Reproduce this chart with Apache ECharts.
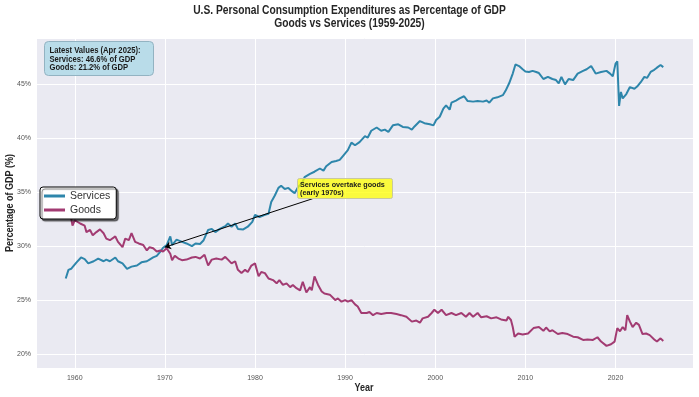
<!DOCTYPE html>
<html>
<head>
<meta charset="utf-8">
<script src="https://cdn.jsdelivr.net/npm/echarts@6/dist/echarts.min.js"></script>
<style>
  html, body { margin: 0; padding: 0; background: #fff; }
  #chart { width: 699px; height: 397px; }
</style>
</head>
<body>
<div id="chart"></div>
<script>
// values (share of GDP, %)
const servicesYears = [1959.0, 1959.3, 1959.6, 1959.8, 1960.2, 1960.7, 1961.1, 1961.5, 1962.1, 1962.6, 1963.2, 1963.5, 1963.9, 1964.5, 1964.8, 1965.3, 1965.8, 1966.3, 1966.9, 1967.4, 1968.0, 1968.3, 1968.7, 1969.1, 1969.5, 1969.8, 1970.2, 1970.6, 1970.8, 1971.3, 1971.9, 1972.4, 1973.0, 1973.4, 1973.9, 1974.3, 1974.8, 1975.2, 1975.6, 1976.1, 1976.7, 1977.0, 1977.4, 1977.8, 1978.1, 1978.7, 1979.2, 1979.7, 1980.0, 1980.5, 1981.1, 1981.5, 1981.8, 1982.2, 1982.6, 1982.9, 1983.3, 1983.7, 1984.1, 1984.4, 1984.8, 1985.2, 1985.5, 1986.1, 1986.6, 1987.2, 1987.6, 1987.9, 1988.5, 1989.0, 1989.4, 1989.8, 1990.3, 1990.7, 1991.1, 1991.6, 1992.2, 1992.5, 1992.9, 1993.5, 1994.0, 1994.4, 1994.8, 1995.3, 1995.9, 1996.4, 1997.0, 1997.4, 1997.7, 1998.3, 1998.8, 1999.4, 1999.8, 2000.1, 2000.5, 2000.9, 2001.2, 2001.6, 2001.8, 2002.3, 2002.7, 2003.2, 2003.6, 2004.2, 2004.7, 2005.3, 2005.7, 2006.0, 2006.4, 2006.9, 2007.5, 2007.8, 2008.2, 2008.6, 2008.9, 2009.3, 2009.7, 2010.0, 2010.4, 2010.8, 2011.2, 2011.5, 2012.0, 2012.5, 2013.0, 2013.4, 2013.7, 2014.0, 2014.4, 2014.8, 2015.3, 2015.8, 2016.4, 2016.8, 2017.3, 2017.8, 2018.4, 2019.0, 2019.4, 2019.7, 2020.0, 2020.2, 2020.4, 2020.6, 2020.8, 2021.2, 2021.6, 2022.1, 2022.4, 2022.8, 2023.2, 2023.5, 2023.9, 2024.3, 2024.6, 2025.0, 2025.3]
const servicesValues = [27.0, 27.8, 27.9, 28.1, 28.5, 28.95, 28.8, 28.4, 28.6, 28.85, 28.6, 28.75, 28.6, 28.95, 28.6, 28.4, 27.9, 28.1, 28.2, 28.5, 28.6, 28.75, 28.95, 29.1, 29.5, 29.85, 30.1, 30.9, 30.1, 30.6, 30.4, 30.25, 30.0, 30.25, 30.2, 30.55, 31.5, 31.6, 31.3, 31.6, 31.85, 32.1, 31.8, 32.1, 31.6, 31.55, 31.8, 32.25, 32.9, 32.7, 32.9, 33.0, 34.1, 34.7, 35.4, 35.6, 35.3, 35.4, 35.1, 34.9, 35.5, 35.8, 36.4, 36.7, 36.9, 37.2, 37.0, 37.4, 37.8, 37.9, 38.0, 38.4, 38.9, 39.6, 39.35, 39.65, 40.2, 40.05, 40.7, 41.0, 40.7, 40.8, 40.6, 41.2, 41.3, 41.05, 41.0, 40.8, 41.1, 41.6, 41.4, 41.3, 41.2, 41.7, 42.0, 42.75, 43.05, 42.65, 43.3, 43.5, 43.7, 43.9, 43.45, 43.4, 43.45, 43.4, 43.5, 43.3, 43.7, 43.8, 44.0, 44.4, 45.1, 46.0, 46.85, 46.7, 46.4, 46.2, 46.15, 46.25, 46.15, 46.05, 45.5, 45.7, 45.5, 45.4, 45.1, 45.7, 45.0, 45.5, 45.4, 46.0, 46.25, 46.4, 46.7, 46.0, 46.15, 46.25, 46.0, 45.75, 46.9, 47.15, 43.0, 44.3, 43.7, 44.1, 44.75, 44.6, 44.8, 45.2, 45.7, 45.6, 46.15, 46.35, 46.55, 46.8, 46.6]

const goodsYears = [1959.0, 1959.4, 1959.6, 1959.75, 1960.0, 1960.2, 1960.6, 1961.1, 1961.3, 1961.7, 1962.0, 1962.4, 1962.8, 1963.2, 1963.5, 1963.9, 1964.5, 1964.8, 1965.3, 1965.6, 1966.0, 1966.3, 1966.7, 1967.1, 1967.6, 1968.0, 1968.3, 1968.7, 1969.1, 1969.5, 1969.8, 1970.2, 1970.6, 1970.8, 1971.1, 1971.5, 1971.9, 1972.4, 1973.0, 1973.4, 1973.9, 1974.4, 1974.8, 1975.2, 1975.7, 1976.3, 1976.7, 1977.0, 1977.4, 1977.8, 1978.1, 1978.5, 1978.9, 1979.2, 1979.6, 1980.0, 1980.4, 1980.7, 1981.1, 1981.5, 1982.0, 1982.4, 1982.7, 1983.1, 1983.5, 1983.9, 1984.2, 1984.6, 1985.0, 1985.3, 1985.7, 1986.1, 1986.3, 1986.6, 1987.0, 1987.4, 1987.7, 1988.3, 1988.9, 1989.2, 1989.6, 1990.0, 1990.3, 1990.7, 1991.1, 1991.4, 1991.8, 1992.4, 1992.7, 1993.1, 1993.5, 1994.0, 1994.6, 1995.1, 1995.7, 1996.2, 1996.8, 1997.4, 1997.9, 1998.3, 1998.6, 1999.2, 1999.6, 1999.9, 2000.3, 2000.7, 2001.2, 2001.8, 2002.3, 2002.9, 2003.4, 2003.8, 2004.2, 2004.7, 2005.1, 2005.7, 2006.2, 2006.8, 2007.3, 2007.9, 2008.1, 2008.4, 2008.6, 2008.8, 2009.2, 2009.7, 2010.3, 2010.9, 2011.5, 2012.0, 2012.3, 2012.7, 2013.0, 2013.6, 2014.1, 2014.7, 2015.3, 2015.8, 2016.4, 2016.9, 2017.5, 2018.0, 2018.4, 2019.0, 2019.5, 2019.9, 2020.2, 2020.5, 2020.8, 2021.1, 2021.3, 2021.6, 2021.9, 2022.3, 2022.6, 2023.0, 2023.4, 2023.8, 2024.3, 2024.6, 2025.0, 2025.3]
const goodsValues = [33.3, 33.0, 32.6, 31.9, 32.4, 32.5, 32.1, 31.9, 31.3, 31.5, 31.0, 31.3, 31.55, 31.2, 30.7, 30.55, 30.9, 30.4, 29.9, 30.7, 30.55, 31.2, 30.4, 30.25, 30.1, 29.6, 29.9, 29.8, 29.5, 29.6, 29.5, 29.8, 29.3, 28.7, 29.1, 28.85, 28.7, 28.75, 28.95, 29.0, 28.85, 29.2, 28.2, 28.75, 28.85, 28.75, 29.0, 28.75, 28.4, 28.6, 27.8, 27.5, 27.8, 27.6, 28.2, 28.4, 27.2, 27.6, 27.5, 27.0, 26.85, 26.55, 26.85, 26.4, 26.55, 26.2, 26.4, 26.1, 25.9, 26.7, 25.7, 26.2, 25.9, 27.2, 26.4, 25.8, 25.6, 25.5, 25.0, 25.15, 24.85, 25.0, 24.85, 25.0, 24.6, 24.4, 23.8, 23.8, 23.9, 23.6, 23.8, 23.7, 23.8, 23.8, 23.7, 23.6, 23.45, 23.0, 23.1, 22.9, 23.3, 23.45, 23.8, 24.1, 23.8, 24.1, 23.6, 23.8, 23.6, 23.8, 23.45, 23.8, 23.45, 23.8, 23.4, 23.5, 23.3, 23.4, 23.2, 23.1, 23.45, 23.15, 22.5, 21.6, 21.9, 21.8, 21.9, 22.4, 22.5, 22.15, 22.45, 22.1, 22.2, 21.85, 21.95, 21.85, 21.6, 21.55, 21.3, 21.35, 21.3, 21.55, 21.15, 20.75, 20.9, 21.15, 22.4, 22.1, 22.5, 22.2, 23.6, 23.0, 22.5, 22.9, 22.7, 21.85, 21.9, 21.75, 21.35, 21.15, 21.45, 21.2]

// arrow of the "services overtake goods" note, [year, %]
const arrowFrom = [1986.4, 34.4]
const arrowTo = [1970.0, 29.9]

const FONT = "'Liberation Sans', Arial, sans-serif"
// the reference uses a condensed face, so wide texts are squeezed a little
const NARROW = 0.82

const chart = echarts.init(document.getElementById('chart'))

chart.setOption({
  animation: false,
  backgroundColor: '#fff',
  grid: {
    left: 36,
    right: 6,
    top: 38,
    bottom: 29,
    outerBoundsMode: 'none',
    containLabel: false,
    show: true,
    backgroundColor: '#EAEAF2',
    borderWidth: 0
  },
  legend: {
    orient: 'vertical',
    left: 40,
    top: 187,
    backgroundColor: '#fff',
    borderColor: '#000',
    borderWidth: 1,
    borderRadius: 3,
    padding: [3, 6, 3, 4],
    itemGap: 2,
    itemWidth: 21,
    itemHeight: 3,
    icon: 'rect',
    shadowColor: 'rgba(0,0,0,0.55)',
    shadowOffsetX: 2,
    shadowOffsetY: 2,
    shadowBlur: 1,
    textStyle: {
      fontFamily: FONT,
      fontSize: 10.5,
      color: '#333',
      lineHeight: 12
    },
    data: ['Services', 'Goods']
  },
  xAxis: {
    type: 'value',
    min: 1955.7,
    max: 2028.6,
    axisLine: { show: false },
    axisTick: { show: false },
    splitLine: { lineStyle: { color: '#fff', width: 1 } },
    axisLabel: {
      showMinLabel: false,
      showMaxLabel: false,
      margin: 7,
      fontFamily: FONT,
      fontSize: 7,
      color: '#555',
      formatter: v => (v % 10 === 0 ? String(v) : '')
    }
  },
  yAxis: {
    type: 'value',
    min: 18.7,
    max: 49.3,
    axisLine: { show: false },
    axisTick: { show: false },
    splitLine: { lineStyle: { color: '#fff', width: 1 } },
    axisLabel: {
      showMinLabel: false,
      showMaxLabel: false,
      margin: 5,
      fontFamily: FONT,
      fontSize: 7,
      color: '#555',
      formatter: v => (v % 5 === 0 ? v + '%' : '')
    }
  },
  series: [
    {
      name: 'Services',
      type: 'line',
      showSymbol: false,
      data: servicesYears.map((y, i) => [y, servicesValues[i]]),
      lineStyle: { color: '#2E86AB', width: 2 },
      itemStyle: { color: '#2E86AB' },
      z: 3
    },
    {
      name: 'Goods',
      type: 'line',
      showSymbol: false,
      data: goodsYears.map((y, i) => [y, goodsValues[i]]),
      lineStyle: { color: '#A23B72', width: 2 },
      itemStyle: { color: '#A23B72' },
      z: 3,
      markLine: {
        silent: true,
        symbol: ['none', 'arrow'],
        symbolSize: 6,
        label: { show: false },
        lineStyle: { color: '#000', width: 1, type: 'solid' },
        data: [[{ coord: arrowFrom }, { coord: arrowTo }]]
      }
    }
  ],
  graphic: [
    {
      type: 'text',
      x: 349.5,
      y: 4,
      scaleX: NARROW,
      style: {
        text: 'U.S. Personal Consumption Expenditures as Percentage of GDP\nGoods vs Services (1959-2025)',
        textAlign: 'center',
        fontFamily: FONT,
        fontSize: 12.5,
        fontWeight: 'bold',
        lineHeight: 13,
        fill: '#262626'
      }
    },
    {
      type: 'text',
      x: 364,
      y: 388,
      scaleX: NARROW,
      style: {
        text: 'Year',
        textAlign: 'center',
        textVerticalAlign: 'middle',
        fontFamily: FONT,
        fontSize: 11,
        fontWeight: 'bold',
        fill: '#262626'
      }
    },
    {
      type: 'text',
      x: 10,
      y: 203,
      rotation: Math.PI / 2,
      scaleX: NARROW,
      style: {
        text: 'Percentage of GDP (%)',
        textAlign: 'center',
        textVerticalAlign: 'middle',
        fontFamily: FONT,
        fontSize: 11,
        fontWeight: 'bold',
        fill: '#262626'
      }
    },
    {
      type: 'group',
      left: 44,
      top: 41,
      children: [
        {
          type: 'rect',
          z: 100,
          shape: { x: 0, y: 0, width: 109, height: 34, r: 4 },
          style: { fill: 'rgba(173,216,230,0.8)', stroke: '#93b3c2', lineWidth: 1 }
        },
        {
          type: 'text',
          z: 101,
          x: 5,
          y: 5,
          scaleX: 0.9,
          style: {
            text: 'Latest Values (Apr 2025):\nServices: 46.6% of GDP\nGoods: 21.2% of GDP',
            fontFamily: FONT,
            fontSize: 8.5,
            fontWeight: 'bold',
            lineHeight: 8.5,
            fill: '#1a1a1a'
          }
        }
      ]
    },
    {
      type: 'group',
      left: 297,
      top: 178,
      children: [
        {
          type: 'rect',
          z: 100,
          shape: { x: 0, y: 0, width: 95, height: 20, r: 2 },
          style: { fill: 'rgba(255,255,0,0.75)', stroke: '#c8c8a0', lineWidth: 1 }
        },
        {
          type: 'text',
          z: 101,
          x: 2.5,
          y: 2,
          scaleX: 0.9,
          style: {
            text: 'Services overtake goods\n(early 1970s)',
            fontFamily: FONT,
            fontSize: 8,
            fontWeight: 'bold',
            lineHeight: 8.5,
            fill: '#1a1a1a'
          }
        }
      ]
    }
  ]
})
</script>
</body>
</html>
